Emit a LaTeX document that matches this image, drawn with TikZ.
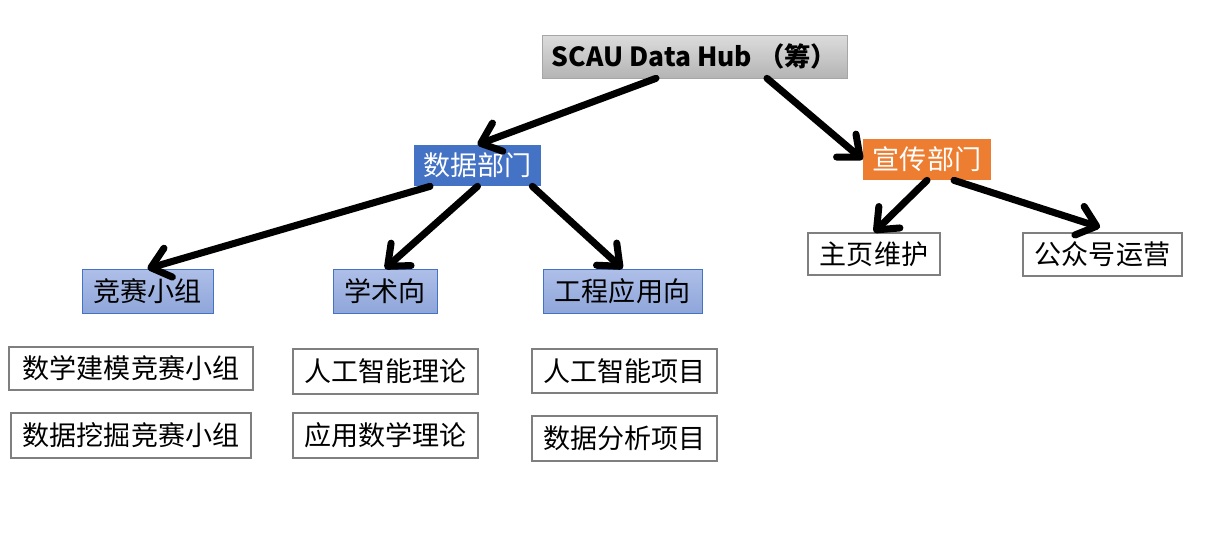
\documentclass[tikz,border=0pt]{standalone}
\usepackage{fontspec}
\setmainfont{Noto Sans CJK SC}
\usetikzlibrary{arrows.meta}
\definecolor{hubtop}{HTML}{DCDCDC}
\definecolor{hubbot}{HTML}{B4B4B4}
\definecolor{hubline}{HTML}{A6A6A6}
\definecolor{datablue}{HTML}{4472C4}
\definecolor{puborange}{HTML}{ED7D31}
\definecolor{grptop}{HTML}{AEBFE8}
\definecolor{grpbot}{HTML}{8FA6DA}
\definecolor{leafline}{HTML}{7F7F7F}
\tikzset{
  box/.style={minimum height=0.86cm, inner sep=0pt, font=\fontsize{15.4pt}{18pt}\selectfont},
  hubbox/.style={box, draw=hubline, top color=hubtop, bottom color=hubbot, font=\fontsize{15pt}{17pt}\selectfont\bfseries},
  deptbox/.style={box, text=white, minimum height=0.82cm},
  grpbox/.style={box, draw=datablue, top color=grptop, bottom color=grpbot, minimum height=0.88cm},
  leafbox/.style={box, draw=leafline, fill=white, line width=0.8pt},
  bigarrow/.style={line width=4pt, line cap=round, -{Straight Barb[round, length=0.36cm, width=0.6cm]}}
}
\begin{document}
\begin{tikzpicture}[x=0.02cm, y=-0.02cm]
      \useasboundingbox (0, 0) rectangle (1216, 551);

      \node [hubbox, minimum width=6.1cm] (hub) at (694.5, 56.5) {SCAU Data Hub （筹）};
      \node [deptbox, fill=datablue, minimum width=2.54cm] (data) at (477.5, 165.5) {数据部门};
      \node [deptbox, fill=puborange, minimum width=2.56cm] (pub) at (927, 159.5) {宣传部门};

      \node [grpbox, minimum width=2.62cm] (comp) at (147.5, 291) {竞赛小组};
      \node [grpbox, minimum width=2.08cm] (acad) at (385, 291) {学术向};
      \node [grpbox, minimum width=3.18cm] (eng) at (622.5, 291) {工程应用向};

      \node [leafbox, minimum width=2.64cm, minimum height=0.84cm] (home) at (874, 254) {主页维护};
      \node [leafbox, minimum width=3.18cm, minimum height=0.86cm] (wx) at (1102.5, 254.5) {公众号运营};

      \node [leafbox, minimum width=4.88cm] (model) at (131, 368.5) {数学建模竞赛小组};
      \node [leafbox, minimum width=4.8cm, minimum height=0.9cm] (mining) at (131, 435.5) {数据挖掘竞赛小组};
      \node [leafbox, minimum width=3.7cm, minimum height=0.9cm] (aitheory) at (385.5, 371.5) {人工智能理论};
      \node [leafbox, minimum width=3.7cm, minimum height=0.9cm] (math) at (385.5, 435.5) {应用数学理论};
      \node [leafbox, minimum width=3.7cm, minimum height=0.88cm] (aiproj) at (624.5, 371) {人工智能项目};
      \node [leafbox, minimum width=3.7cm, minimum height=0.9cm] (anaproj) at (624.5, 438.5) {数据分析项目};

      \draw [bigarrow] ([xshift=-0.77cm]hub.south) -- (data.north);
      \draw [bigarrow] ([xshift=1.45cm]hub.south) -- (pub.west);

      \draw [bigarrow] ([xshift=-0.95cm]data.south) -- (comp.north);
      \draw [bigarrow] (data.south) -- (acad.north);
      \draw [bigarrow] ([xshift=-0.18cm]data.south east) -- (eng.north);

      \draw [bigarrow] (pub.south) -- (home.north);
      \draw [bigarrow] ([xshift=0.54cm]pub.south) -- ([xshift=-0.05cm, yshift=0.1cm]wx.north);
    \end{tikzpicture}
\end{document}
